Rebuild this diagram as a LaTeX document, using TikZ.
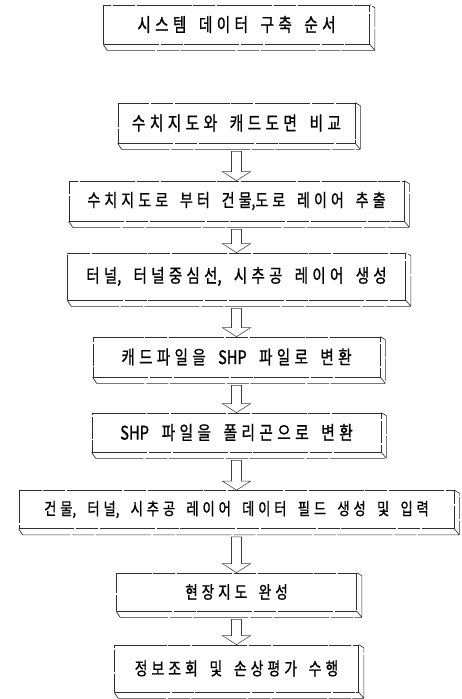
\documentclass[tikz,border=0pt]{standalone}
\usepackage{fontspec}
\setmainfont{Noto Sans CJK KR}[FakeStretch=0.78, WordSpace=3.8, FakeBold=0.9]
\usetikzlibrary{calc}
\XeTeXinterchartokenstate=1
\newXeTeXintercharclass\hangclass
\count255="AC00
\loop \XeTeXcharclass\count255=\hangclass \advance\count255 by 1 \ifnum\count255<"D7A4 \repeat
\XeTeXinterchartoks\hangclass\hangclass={\kern0.23em\relax}
\newcommand\fsz[1]{\fontsize{#1pt}{#1pt}\selectfont}
\tikzset{
  ln/.style={draw=black!82, line width=0.65pt, dash pattern=on 55pt off 2pt on 22pt off 1.5pt},
  box/.style={ln, fill=white, inner sep=0pt, text=black},
  bevel/.style={ln, line join=round},
  blockarrow/.style={draw=black!75, fill=white, line width=0.55pt, to path={
    let \p1=(\tikztostart), \p2=(\tikztotarget) in
    (\x1-5pt,\y1) -- (\x1+5pt,\y1) -- (\x1+5pt,\y2+9pt) -- (\x1+14pt,\y2+9pt)
    -- (\x1,\y2) -- (\x1-14pt,\y2+9pt) -- (\x1-5pt,\y2+9pt) -- cycle}}
}
\begin{document}
\begin{tikzpicture}[x=1pt,y=-1pt]
\useasboundingbox (0,0) rectangle (461,699);
\node[box, minimum width=266pt, minimum height=39pt, font=\fsz{18.8}] (t) at (236.5,24.5) {시스템 데이터 구축 순서};
\node[box, minimum width=237pt, minimum height=40pt, font=\fsz{18.9}] (b2) at (236.5,123) {수치지도와 캐드도면 비교};
\node[box, minimum width=335pt, minimum height=40pt, font=\fsz{17.9}] (b3) at (236.5,201) {수치지도로 부터 건물,도로 레이어 추출};
\node[box, minimum width=338pt, minimum height=47pt, font=\fsz{18.6}] (b4) at (236.5,276.5) {터널, 터널중심선, 시추공 레이어 생성};
\node[box, minimum width=287pt, minimum height=40pt, font=\fsz{18.7}] (b5) at (236.5,357) {캐드파일을 SHP 파일로 변환};
\node[box, minimum width=289pt, minimum height=39pt, font=\fsz{18.9}] (b6) at (236.5,432.5) {SHP 파일을 폴리곤으로 변환};
\node[box, minimum width=435pt, minimum height=38pt, font=\fsz{17.0}] (b7) at (236.5,509.5) {건물, 터널, 시추공 레이어 데이터 필드 생성 및 입력};
\node[box, minimum width=240pt, minimum height=38pt, font=\fsz{17.4}] (b8) at (236.5,592) {현장지도 완성};
\node[box, minimum width=244pt, minimum height=47pt, font=\fsz{17.7}] (b9) at (236.5,668.5) {정보조회 및 손상평가 수행};
\foreach \n in {t,b2,b3,b4,b5,b6,b7,b8,b9}{
  \draw[bevel] (\n.south west) -- ++(4pt,-6pt) -- ($(\n.south east)+(5pt,-6pt)$)
    -- ($(\n.north east)+(5pt,-3pt)$) -- (\n.north east)
    (\n.south east) -- ++(5pt,-6pt);
}
\foreach \a/\b in {b2/b3,b3/b4,b4/b5,b5/b6,b6/b7,b7/b8,b8/b9}{
  \draw[blockarrow] ($(\a.south)+(0,-8pt)$) to (\b.north);
}
\end{tikzpicture}
\end{document}
